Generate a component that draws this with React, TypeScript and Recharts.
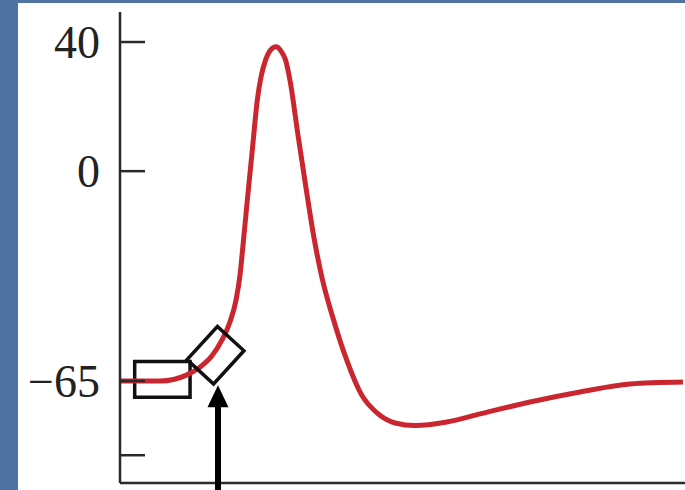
import React from 'react'
import { LineChart, Line, XAxis, YAxis, ReferenceArea, ReferenceDot } from 'recharts'

// membrane potential trace (time in ms, potential in mV)
const timeMs = [
  0, 0.354, 0.593, 0.708, 0.814, 0.903, 0.973, 1.027, 1.062, 1.093, 1.127, 1.171, 1.215,
  1.248, 1.288, 1.332, 1.381, 1.425, 1.465, 1.504, 1.575, 1.646, 1.717, 1.788, 1.885,
  2.009, 2.133, 2.274, 2.434, 2.611, 2.894, 3.186, 3.628, 4.071, 4.513, 4.982,
]
const potentialMv = [
  -65, -65, -63.1, -60.7, -57.2, -52.3, -46.7, -39.9, -32.2, -21.3, -8.9, 6.6, 22,
  29.2, 34.4, 37.5, 38.5, 37.2, 34.4, 28.2, 11.2, -5.2, -20.7, -33.1, -45.5,
  -58.8, -69, -74.9, -78, -78.8, -77.7, -75.2, -71.5, -68.4, -65.9, -65.3,
]

const yTicks = [-88, -65, 0, 40]
const yTickLabels = ['', '\u221265', '0', '40']

// annotation boxes: resting segment and threshold region
const restBox = { x1: 0.13, x2: 0.62, y1: -70, y2: -59 }
const thresholdPoint = { x: 0.845, y: -57 }

const AXIS = '#2a2a2a'
const TRACE = '#c9262f'
const BLUE = '#4f74a4'

const data = timeMs.map((t, i) => ({ t, v: potentialMv[i] }))

const AxisTick = (props: any) => {
  const { x, y, payload } = props
  const label = yTickLabels[yTicks.indexOf(payload.value)]
  return (
    <g>
      <line x1={x} y1={y} x2={x + 25} y2={y} stroke={AXIS} strokeWidth={2.5} />
      <text
        x={x - 20}
        y={y}
        dy="0.34em"
        textAnchor="end"
        fontFamily="'Liberation Serif', 'Times New Roman', serif"
        fontSize={46}
        fill="#222"
      >
        {label}
      </text>
    </g>
  )
}

// tilted box over the threshold crossing, with the arrow pointing at it
const ThresholdMarker = (props: any) => {
  const { cx, cy } = props
  return (
    <g>
      <rect
        x={cx - 22.5}
        y={cy - 18}
        width={45}
        height={36}
        transform={`rotate(-47.5 ${cx} ${cy})`}
        fill="none"
        stroke="#111"
        strokeWidth={3.5}
      />
      <line x1={cx + 2.5} y1={cy + 50} x2={cx + 2.5} y2={cy + 145} stroke="#000" strokeWidth={6} />
      <polygon points={`${cx + 2.5},${cy + 30} ${cx - 8},${cy + 52} ${cx + 13},${cy + 52}`} fill="#000" />
    </g>
  )
}

export default function App() {
  return (
    <div style={{ position: 'absolute', left: 0, top: 0, width: 685, height: 490, background: BLUE, overflow: 'hidden' }}>
      <div style={{ position: 'absolute', left: 18, top: 3, right: 0, bottom: 0, background: '#fff' }} />
      <div style={{ position: 'absolute', left: 0, top: 0 }}>
        <LineChart width={685} height={490} data={data} margin={{ top: 12, right: 0, bottom: 0, left: 0 }}>
          <XAxis
            dataKey="t"
            type="number"
            domain={[0, 5]}
            height={7}
            tick={false}
            tickLine={false}
            axisLine={{ stroke: AXIS, strokeWidth: 2.5 }}
          />
          <YAxis
            type="number"
            domain={[-96.6, 49.3]}
            allowDataOverflow
            ticks={yTicks}
            width={120}
            tickSize={0}
            tickMargin={0}
            tickLine={false}
            tick={<AxisTick />}
            axisLine={{ stroke: AXIS, strokeWidth: 2.5 }}
          />
          <ReferenceArea
            x1={restBox.x1}
            x2={restBox.x2}
            y1={restBox.y1}
            y2={restBox.y2}
            fill="none"
            fillOpacity={0}
            stroke="#111"
            strokeWidth={3.5}
          />
          <Line
            type="monotone"
            dataKey="v"
            stroke={TRACE}
            strokeWidth={5}
            dot={false}
            isAnimationActive={false}
          />
          <ReferenceDot x={thresholdPoint.x} y={thresholdPoint.y} r={0} shape={<ThresholdMarker />} />
        </LineChart>
      </div>
    </div>
  )
}
